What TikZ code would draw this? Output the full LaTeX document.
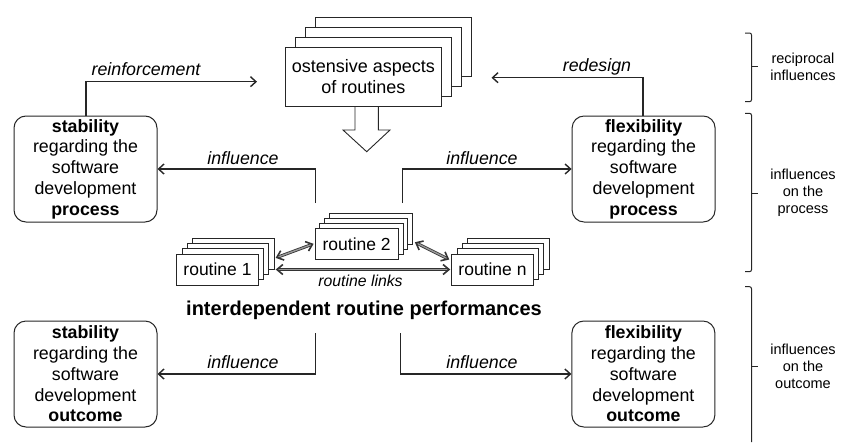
\documentclass[tikz,border=0pt]{standalone}
\usepackage{fontspec}
\setmainfont{Liberation Sans}
\usetikzlibrary{arrows.meta}

\begin{document}
\begin{tikzpicture}[x=1pt,y=-1pt,
  ln/.style={line width=1.2pt, draw=black!85},
  flow/.style={ln, -{Straight Barb[length=5.5pt,width=10pt,line width=1.4pt]}},
  link/.style={draw=black!80, line width=0.8pt, double=black!40, double distance=1.4pt,
    {Straight Barb[length=6pt,width=10pt,line width=1.6pt]}-{Straight Barb[length=6pt,width=10pt,line width=1.6pt]}},
  quality/.style={draw=black!85, line width=1pt, rounded corners=12pt, fill=white,
    minimum width=143pt, minimum height=106pt, inner sep=0pt, align=center,
    font=\fontsize{17.8}{20.8}\selectfont},
  ostcard/.style={draw=black!85, line width=0.9pt, fill=white, inner sep=0pt,
    minimum width=156.7pt, minimum height=59.4pt, align=center,
    font=\fontsize{18}{21}\selectfont},
  rcard/.style={draw=black!85, line width=0.9pt, fill=white, inner sep=0pt,
    minimum width=#1, minimum height=31pt, font=\fontsize{17.5}{20}\selectfont},
  lbl/.style={font=\itshape\fontsize{17.8}{20}\selectfont, inner sep=0pt},
  side/.style={align=center, font=\fontsize{14.5}{17}\selectfont, inner sep=0pt},
  brace/.style={draw=black!85, line width=1pt, rounded corners=2pt}
]
\useasboundingbox (0,0) rectangle (843,442);

% ostensive aspects: stack of four cards
\foreach \i in {3,2,1}
  \node[ostcard] (ost-\i) at ({363.4+10*\i},{77-10*\i}) {};
\node[ostcard] (ost) at (363.4,77) {ostensive aspects\\of routines};

% hollow block arrow down to the performances
\draw[line width=0.9pt, draw=black!85, fill=white]
  (355,107) -- (355,130) -- (343,130) -- (366.7,151.7) -- (390,130)
  -- (378.3,130) -- (378.3,107);

% stability / flexibility boxes
\node[quality] (stabP) at (85.5,169) {\textbf{stability}\\regarding the\\software\\development\\\textbf{process}};
\node[quality] (flexP) at (643.6,169) {\textbf{flexibility}\\regarding the\\software\\development\\\textbf{process}};
\node[quality] (stabO) at (85.5,374) {\textbf{stability}\\regarding the\\software\\development\\\textbf{outcome}};
\node[quality] (flexO) at (643.4,374) {\textbf{flexibility}\\regarding the\\software\\development\\\textbf{outcome}};

% routine stacks
\foreach \i in {3,2,1}
  \node[rcard=83.3pt] (r2-\i) at ({356.7+4.7*\i},{243.8-5*\i}) {};
\node[rcard=83.3pt] (r2) at (356.7,243.8) {routine 2};
\foreach \i in {3,2,1}
  \node[rcard=81.6pt] (r1-\i) at ({217.5+5.3*\i},{269.5-5.2*\i}) {};
\node[rcard=81.6pt] (r1) at (217.5,269.5) {routine 1};
\foreach \i in {3,2,1}
  \node[rcard=81.6pt] (rn-\i) at ({492.5+5.3*\i},{269.5-5.2*\i}) {};
\node[rcard=81.6pt] (rn) at (492.5,269.5) {routine n};

% routine links
\draw[link] ([xshift=1pt,yshift=-4pt]r1-3.east) -- ([xshift=-1pt]r2.west);
\draw[link] ([xshift=2pt,yshift=2.5pt]r2-3.south east) -- ([xshift=-2pt,yshift=-6pt]rn.north west);
\draw[link] ([xshift=1pt]r1-3.east |- r1.center) -- ([xshift=-1pt]rn.west);
\node[lbl, font=\itshape\fontsize{15.8}{18}\selectfont] (links) at (360.5,280.5) {routine links};

\node[font=\bfseries\fontsize{20}{22}\selectfont, inner sep=0pt] (perf) at (364,310) {interdependent routine performances};

% reciprocal influences
\coordinate (reinfEnd) at (257,81.7);
\coordinate (redesEnd) at (491.5,77.7);
\draw[flow] ([xshift=0.5pt]stabP.north) |- (reinfEnd);
\draw[flow] ([xshift=-0.6pt]flexP.north) |- (redesEnd);
\node[lbl] at (146,69) {reinforcement};
\node[lbl] at (597,67) {redesign};

% influences on the process
\coordinate (pL) at (315.5,203);
\coordinate (pR) at (402.7,203);
\draw[flow] (pL) |- (stabP.east);
\draw[flow] (pR) |- (flexP.west);
\node[lbl] at (243,158) {influence};
\node[lbl] at (482,158) {influence};

% influences on the outcome
\coordinate (oL) at (315.5,333);
\coordinate (oR) at (400.7,333);
\draw[flow] (oL) |- (stabO.east);
\draw[flow] (oR) |- (flexO.west);
\node[lbl] at (243,362) {influence};
\node[lbl] at (482,362) {influence};

% braces on the right
\draw[brace] (745,33) -- (751.5,33) -- (751.5,101.7) -- (745,101.7);
\draw[brace] (751.5,66.7) -- (758,66.7);
\draw[brace] (745,113.3) -- (751.5,113.3) -- (751.5,271.7) -- (745,271.7);
\draw[brace] (751.5,193) -- (758,193);
\draw[brace] (745,286.7) -- (751.5,286.7) -- (751.5,442);
\draw[brace] (751.5,366.7) -- (758,366.7);

\node[side] (recip) at (803,66.5) {reciprocal\\influences};
\node[side] (proc) at (803,193) {influences\\on the\\process};
\node[side] (outc) at (803,366.5) {influences\\on the\\outcome};
\end{tikzpicture}
\end{document}
